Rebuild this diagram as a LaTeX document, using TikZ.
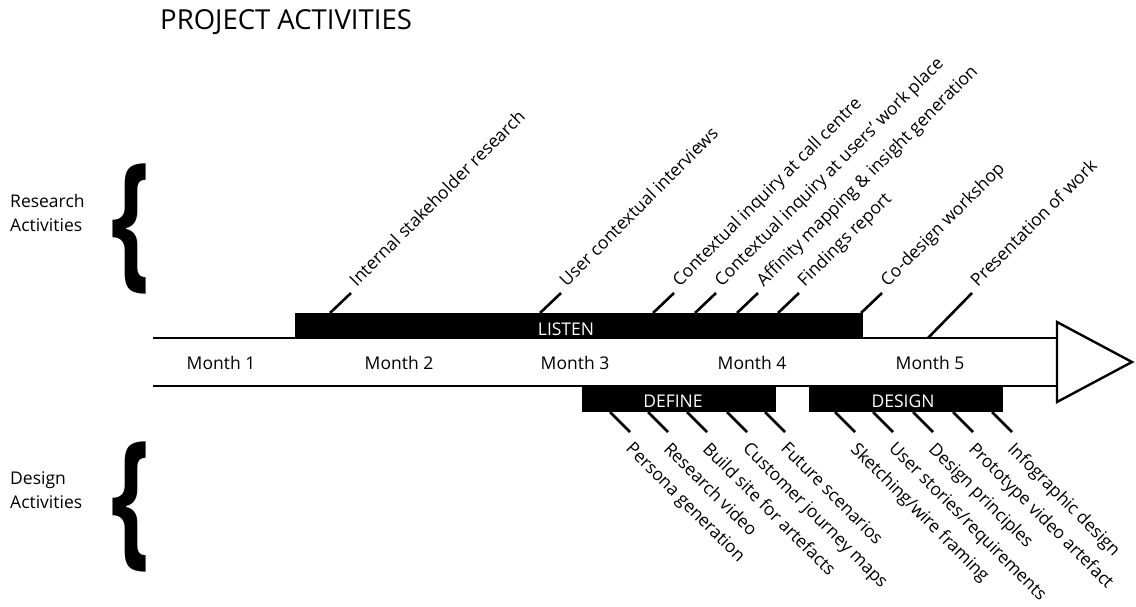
\documentclass[tikz,border=0pt]{standalone}
\usepackage{fontspec}
\setmainfont{Open Sans}
\begin{document}
\begin{tikzpicture}[
    x=1pt, y=1pt,
    every node/.style={inner sep=0pt, font=\fontsize{17.5}{24}\selectfont},
    bar/.style={fill=black, draw=none},
    barlabel/.style={text=white, anchor=base},
    tick/.style={line width=2.6pt},
    uplabel/.style={anchor=base west, rotate=45, inner xsep=8pt},
    downlabel/.style={anchor=north west, rotate=-45, inner xsep=9pt, inner ysep=3pt},
    month/.style={anchor=base},
    side/.style={anchor=west, align=left},
    brace/.style={font=\fontsize{115}{115}\selectfont\bfseries, xscale=0.85, yscale=1.3}
]
    \useasboundingbox (0,0) rectangle (1136,606);

    \node[anchor=base west, font=\fontsize{27.5}{33}\selectfont] (title) at (160,576) {PROJECT ACTIVITIES};

    \node[side] (research) at (10,393) {Research\\Activities};
    \node[side] (design) at (10,116) {Design\\Activities};
    \node[brace] (rbrace) at (131,377) {\{};
    \node[brace] (dbrace) at (131,99) {\{};

    \coordinate (top start) at (153,268);
    \coordinate (top end) at (1057,268);
    \coordinate (bottom start) at (153,220);
    \coordinate (bottom end) at (1057,220);
    \coordinate (head top) at (1057,284);
    \coordinate (head tip) at (1132,244);
    \coordinate (head bottom) at (1057,204);
    \draw[line width=2.6pt] (top start) -- (top end);
    \draw[line width=2.6pt] (bottom start) -- (bottom end);
    \draw[line width=2.4pt, fill=white] (head top) -- (head tip) -- (head bottom) -- cycle;

    \node[month] (m1) at (221,236) {Month 1};
    \node[month] (m2) at (399,236) {Month 2};
    \node[month] (m3) at (575,236) {Month 3};
    \node[month] (m4) at (752,236) {Month 4};
    \node[month] (m5) at (930,236) {Month 5};

    \fill[bar] (295,266.7) rectangle (863,293);
    \fill[bar] (582,221.3) rectangle (776,194);
    \fill[bar] (809,221.3) rectangle (1003,194);
    \node[barlabel] (listen) at (566,270) {LISTEN};
    \node[barlabel] (define) at (673,199) {DEFINE};
    \node[barlabel] (designbar) at (903,199) {DESIGN};

    \coordinate (r1) at (330,293);
    \coordinate (r2) at (540,293);
    \coordinate (r3) at (653,293);
    \coordinate (r4) at (695,293);
    \coordinate (r5) at (737,293);
    \coordinate (r6) at (778,293);
    \coordinate (r7) at (861,293);
    \coordinate (r8) at (928,268);
    \node[uplabel] (u1) at (351,313) {Internal stakeholder research};
    \node[uplabel] (u2) at (561,313) {User contextual interviews};
    \node[uplabel] (u3) at (674,313) {Contextual inquiry at call centre};
    \node[uplabel] (u4) at (716,313) {Contextual inquiry at users’ work place};
    \node[uplabel] (u5) at (758,313) {Affinity mapping \& insight generation};
    \node[uplabel] (u6) at (799,313) {Findings report};
    \node[uplabel] (u7) at (882,313) {Co-design workshop};
    \node[uplabel] (u8) at (972,313) {Presentation of work};
    \draw[tick] (r1) -- (u1.base west);
    \draw[tick] (r2) -- (u2.base west);
    \draw[tick] (r3) -- (u3.base west);
    \draw[tick] (r4) -- (u4.base west);
    \draw[tick] (r5) -- (u5.base west);
    \draw[tick] (r6) -- (u6.base west);
    \draw[tick] (r7) -- (u7.base west);
    \draw[tick] (r8) -- (u8.base west);

    \coordinate (d1) at (610,194);
    \coordinate (d2) at (648,194);
    \coordinate (d3) at (687,194);
    \coordinate (d4) at (727,194);
    \coordinate (d5) at (765,194);
    \coordinate (d6) at (835,194);
    \coordinate (d7) at (873,194);
    \coordinate (d8) at (913,194);
    \coordinate (d9) at (953,194);
    \coordinate (d10) at (992,194);
    \node[downlabel] (p1) at (630,174) {Persona generation};
    \node[downlabel] (p2) at (668,174) {Research video};
    \node[downlabel] (p3) at (707,174) {Build site for artefacts};
    \node[downlabel] (p4) at (747,174) {Customer journey maps};
    \node[downlabel] (p5) at (785,174) {Future scenarios};
    \node[downlabel] (p6) at (855,174) {Sketching/wire framing};
    \node[downlabel] (p7) at (893,174) {User stories/requirements};
    \node[downlabel] (p8) at (933,174) {Design principles};
    \node[downlabel] (p9) at (973,174) {Prototype video artefact};
    \node[downlabel] (p10) at (1012,174) {Infographic design};
    \draw[tick] (d1) -- (p1.north west);
    \draw[tick] (d2) -- (p2.north west);
    \draw[tick] (d3) -- (p3.north west);
    \draw[tick] (d4) -- (p4.north west);
    \draw[tick] (d5) -- (p5.north west);
    \draw[tick] (d6) -- (p6.north west);
    \draw[tick] (d7) -- (p7.north west);
    \draw[tick] (d8) -- (p8.north west);
    \draw[tick] (d9) -- (p9.north west);
    \draw[tick] (d10) -- (p10.north west);
\end{tikzpicture}
\end{document}
